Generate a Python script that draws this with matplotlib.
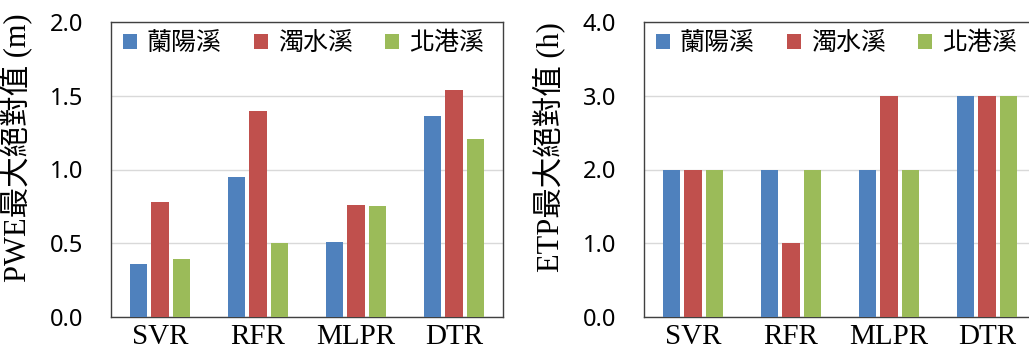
import numpy as np
import matplotlib
matplotlib.use("Agg")
import matplotlib.pyplot as plt

models = ["SVR", "RFR", "MLPR", "DTR"]
rivers = ["蘭陽溪", "濁水溪", "北港溪"]
colors = ["#4F81BD", "#C0504D", "#9BBB59"]

# PWE max abs (m), one list per river
pwe_lanyang = [0.36, 0.95, 0.51, 1.36]
pwe_zhuoshui = [0.78, 1.40, 0.76, 1.54]
pwe_beigang = [0.39, 0.50, 0.75, 1.21]

# ETP max abs (h)
etp_lanyang = [2, 2, 2, 3]
etp_zhuoshui = [2, 1, 3, 3]
etp_beigang = [2, 2, 2, 3]

cjk = ["Noto Sans CJK TC", "DejaVu Sans"]
serif_cjk = ["Liberation Serif", "Noto Sans CJK TC"]

fig = plt.figure(figsize=(10.29, 3.47), dpi=100)
W, H = 1029, 347


def panel(left_px, series, ymax, step, ylabel):
    ax = fig.add_axes([left_px / W, 30 / H, 392 / W, 295 / H])
    x = np.arange(len(models))
    width = 0.175
    offs = [-0.22, 0.0, 0.22]
    for vals, name, c, o in zip(series, rivers, colors, offs):
        ax.bar(x + o, vals, width, color=c, label=name, zorder=3)
    ax.set_xlim(-0.5, len(models) - 0.5)
    ax.set_ylim(0, ymax)
    ticks = np.arange(0, ymax + step / 2, step)
    ax.set_yticks(ticks)
    ax.set_yticklabels([f"{t:.1f}" for t in ticks], family="Noto Sans", fontsize=17)
    ax.set_xticks(x)
    ax.set_xticklabels(models, family="Liberation Serif", fontsize=21)
    ax.tick_params(axis="y", length=0, pad=20)
    ax.tick_params(axis="x", length=0, pad=5)
    ax.grid(axis="y", color="#d9d9d9", linewidth=1, zorder=0)
    for s in ax.spines.values():
        s.set_color("#404040")
        s.set_linewidth(1)
    ax.set_ylabel(ylabel, family=serif_cjk, fontsize=22)
    ax.yaxis.set_label_coords(-0.2, 0.575)
    ax.legend(loc="center left", bbox_to_anchor=(0.005, 0.929), ncol=3,
              frameon=False, prop={"family": cjk, "size": 18},
              handlelength=0.55, handleheight=0.55, handletextpad=0.4,
              columnspacing=1.3, borderaxespad=0)
    return ax


panel(111, [pwe_lanyang, pwe_zhuoshui, pwe_beigang], 2.0, 0.5, "PWE最大絕對值 (m)")
panel(644, [etp_lanyang, etp_zhuoshui, etp_beigang], 4.0, 1.0, "ETP最大絕對值 (h)")

fig.savefig("out.png", dpi=100)
